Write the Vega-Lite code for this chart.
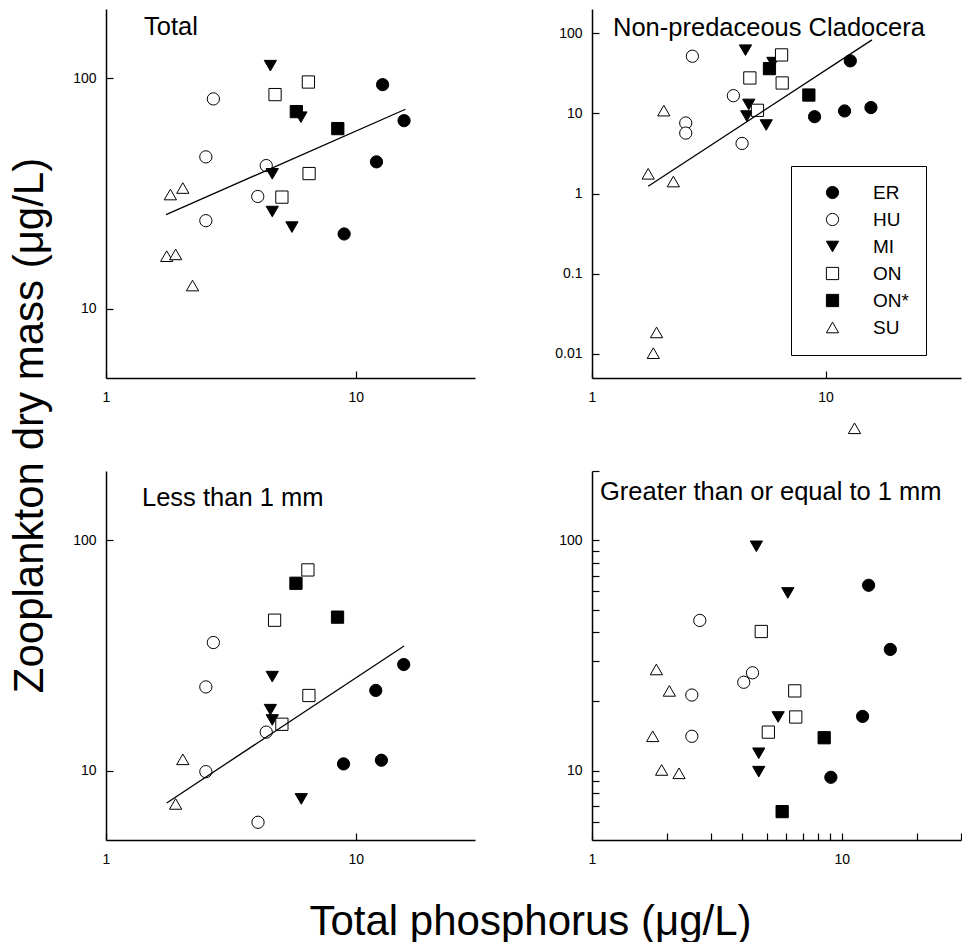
{
  "$schema": "https://vega.github.io/schema/vega-lite/v6.json",
  "background": "white",
  "padding": {"left": 7, "top": 9, "right": 0, "bottom": 0},
  "bounds": "flush",
  "columns": 2,
  "spacing": {"row": 93, "column": 117},
  "datasets": {
    "p1": [
      {"site": "ER", "tp": 12.8, "mass": 93.9},
      {"site": "ER", "tp": 15.6, "mass": 65.5},
      {"site": "ER", "tp": 12.1, "mass": 43.4},
      {"site": "ER", "tp": 8.98, "mass": 21.1},
      {"site": "HU", "tp": 2.69, "mass": 81.4},
      {"site": "HU", "tp": 2.51, "mass": 45.6},
      {"site": "HU", "tp": 4.38, "mass": 41.8},
      {"site": "HU", "tp": 4.05, "mass": 30.7},
      {"site": "HU", "tp": 2.51, "mass": 24.1},
      {"site": "MI", "tp": 4.55, "mass": 113.5},
      {"site": "MI", "tp": 6.03, "mass": 67.8},
      {"site": "MI", "tp": 4.63, "mass": 38.5},
      {"site": "MI", "tp": 4.63, "mass": 26.4},
      {"site": "MI", "tp": 5.55, "mass": 22.6},
      {"site": "ON", "tp": 6.46, "mass": 96.4},
      {"site": "ON", "tp": 4.75, "mass": 85.0},
      {"site": "ON", "tp": 6.5, "mass": 38.6},
      {"site": "ON", "tp": 5.06, "mass": 30.5},
      {"site": "ON*", "tp": 5.78, "mass": 71.7},
      {"site": "ON*", "tp": 8.47, "mass": 60.5},
      {"site": "SU", "tp": 1.81, "mass": 31.3},
      {"site": "SU", "tp": 2.03, "mass": 33.4},
      {"site": "SU", "tp": 1.75, "mass": 16.9},
      {"site": "SU", "tp": 1.9, "mass": 17.2},
      {"site": "SU", "tp": 2.22, "mass": 12.6}
    ],
    "p2": [
      {"site": "ER", "tp": 12.76, "mass": 45.1},
      {"site": "ER", "tp": 8.97, "mass": 9.08},
      {"site": "ER", "tp": 12.06, "mass": 10.7},
      {"site": "ER", "tp": 15.64, "mass": 11.8},
      {"site": "HU", "tp": 2.69, "mass": 51.5},
      {"site": "HU", "tp": 4.03, "mass": 16.6},
      {"site": "HU", "tp": 2.52, "mass": 7.57},
      {"site": "HU", "tp": 2.52, "mass": 5.67},
      {"site": "HU", "tp": 4.39, "mass": 4.21},
      {"site": "MI", "tp": 4.54, "mass": 61.3},
      {"site": "MI", "tp": 5.95, "mass": 42.9},
      {"site": "MI", "tp": 4.69, "mass": 12.9},
      {"site": "MI", "tp": 4.6, "mass": 9.25},
      {"site": "MI", "tp": 5.57, "mass": 7.14},
      {"site": "ON", "tp": 6.48, "mass": 53.5},
      {"site": "ON", "tp": 4.74, "mass": 27.6},
      {"site": "ON", "tp": 6.52, "mass": 23.9},
      {"site": "ON", "tp": 5.11, "mass": 10.9},
      {"site": "ON*", "tp": 5.75, "mass": 36.1},
      {"site": "ON*", "tp": 8.48, "mass": 16.9},
      {"site": "SU", "tp": 2.03, "mass": 10.8},
      {"site": "SU", "tp": 1.74, "mass": 1.76},
      {"site": "SU", "tp": 2.23, "mass": 1.41},
      {"site": "SU", "tp": 1.89, "mass": 0.0185},
      {"site": "SU", "tp": 1.83, "mass": 0.0102},
      {"site": "SU", "tp": 13.3, "mass": 0.00118}
    ],
    "p3": [
      {"site": "ER", "tp": 15.55, "mass": 28.9},
      {"site": "ER", "tp": 12.02, "mass": 22.3},
      {"site": "ER", "tp": 8.93, "mass": 10.7},
      {"site": "ER", "tp": 12.66, "mass": 11.1},
      {"site": "HU", "tp": 2.69, "mass": 36.0},
      {"site": "HU", "tp": 2.51, "mass": 23.1},
      {"site": "HU", "tp": 2.51, "mass": 9.9},
      {"site": "HU", "tp": 4.38, "mass": 14.7},
      {"site": "HU", "tp": 4.06, "mass": 5.97},
      {"site": "MI", "tp": 4.63, "mass": 25.6},
      {"site": "MI", "tp": 4.55, "mass": 18.4},
      {"site": "MI", "tp": 4.63, "mass": 16.6},
      {"site": "MI", "tp": 6.05, "mass": 7.54},
      {"site": "ON", "tp": 6.43, "mass": 74.4},
      {"site": "ON", "tp": 4.73, "mass": 45.0},
      {"site": "ON", "tp": 6.49, "mass": 21.2},
      {"site": "ON", "tp": 5.06, "mass": 15.9},
      {"site": "ON*", "tp": 5.76, "mass": 65.1},
      {"site": "ON*", "tp": 8.45, "mass": 46.4},
      {"site": "SU", "tp": 2.03, "mass": 11.2},
      {"site": "SU", "tp": 1.9, "mass": 7.17}
    ],
    "p4": [
      {"site": "ER", "tp": 12.8, "mass": 63.8},
      {"site": "ER", "tp": 15.64, "mass": 33.6},
      {"site": "ER", "tp": 12.11, "mass": 17.2},
      {"site": "ER", "tp": 9.04, "mass": 9.36},
      {"site": "HU", "tp": 2.7, "mass": 44.9},
      {"site": "HU", "tp": 4.39, "mass": 26.6},
      {"site": "HU", "tp": 4.05, "mass": 24.2},
      {"site": "HU", "tp": 2.51, "mass": 21.3},
      {"site": "HU", "tp": 2.51, "mass": 14.1},
      {"site": "MI", "tp": 4.55, "mass": 94.2},
      {"site": "MI", "tp": 6.08, "mass": 59.1},
      {"site": "MI", "tp": 5.56, "mass": 17.1},
      {"site": "MI", "tp": 4.65, "mass": 11.9},
      {"site": "MI", "tp": 4.65, "mass": 9.9},
      {"site": "ON", "tp": 4.76, "mass": 40.2},
      {"site": "ON", "tp": 6.48, "mass": 22.2},
      {"site": "ON", "tp": 6.54, "mass": 17.1},
      {"site": "ON", "tp": 5.08, "mass": 14.7},
      {"site": "ON*", "tp": 8.5, "mass": 13.9},
      {"site": "ON*", "tp": 5.77, "mass": 6.64},
      {"site": "SU", "tp": 1.81, "mass": 27.5},
      {"site": "SU", "tp": 2.04, "mass": 22.2},
      {"site": "SU", "tp": 1.75, "mass": 14.1},
      {"site": "SU", "tp": 1.9, "mass": 10.07},
      {"site": "SU", "tp": 2.23, "mass": 9.74}
    ],
    "l1": [{"tp": 1.74, "mass": 25.6}, {"tp": 15.8, "mass": 73.4}],
    "l2": [{"tp": 1.74, "mass": 1.23}, {"tp": 15.8, "mass": 82.5}],
    "l3": [{"tp": 1.75, "mass": 7.24}, {"tp": 15.6, "mass": 34.8}]
  },
  "concat": [
    {
      "width": 369,
      "height": 369,
      "title": {"text": "Total", "anchor": "start", "frame": "group", "dx": 38, "offset": -51, "baseline": "alphabetic"},
      "layer": [
        {
          "data": {"name": "p1"},
          "mark": {"type": "point", "filled": true, "strokeWidth": 1, "size": 150, "opacity": 1},
          "encoding": {
            "x": {"field": "tp", "type": "quantitative", "scale": {"type": "log", "domain": [1, 30], "nice": false}, "axis": {"values": [1, 10], "format": "~g", "title": null}},
            "y": {"field": "mass", "type": "quantitative", "scale": {"type": "log", "domain": [5, 200], "nice": false},
              "axis": {"values": [10, 100], "format": "~g", "title": "Zooplankton dry mass (μg/L)", "titleAngle": 270, "titleX": -64, "titleY": 416, "titleAlign": "center", "titleBaseline": "alphabetic"}},
            "shape": {"field": "site", "type": "nominal", "scale": {"domain": ["ER", "HU", "MI", "ON", "ON*", "SU"], "range": ["circle", "circle", "triangle-down", "square", "square", "triangle-up"]}, "legend": null},
            "fill": {"field": "site", "type": "nominal", "scale": {"domain": ["ER", "HU", "MI", "ON", "ON*", "SU"], "range": ["black", "white", "black", "white", "black", "white"]}, "legend": null},
            "stroke": {"field": "site", "type": "nominal", "scale": {"domain": ["ER", "HU", "MI", "ON", "ON*", "SU"], "range": ["black", "black", "black", "black", "black", "black"]}, "legend": null}
          }
        },
        {
          "data": {"name": "l1"},
          "mark": {"type": "line", "color": "black", "strokeWidth": 1.3},
          "encoding": {"x": {"field": "tp", "type": "quantitative"}, "y": {"field": "mass", "type": "quantitative"}}
        }
      ]
    },
    {
      "width": 369,
      "height": 369,
      "title": {"text": "Non-predaceous Cladocera", "anchor": "start", "frame": "group", "dx": 21, "offset": -52, "baseline": "alphabetic"},
      "layer": [
        {
          "data": {"name": "p2"},
          "mark": {"type": "point", "filled": true, "strokeWidth": 1, "size": 150, "opacity": 1},
          "encoding": {
            "x": {"field": "tp", "type": "quantitative", "scale": {"type": "log", "domain": [1, 38], "nice": false}, "axis": {"values": [1, 10], "format": "~g", "title": null}},
            "y": {"field": "mass", "type": "quantitative", "scale": {"type": "log", "domain": [0.005, 200], "nice": false}, "axis": {"values": [0.01, 0.1, 1, 10, 100], "format": "~g", "title": null}},
            "shape": {"field": "site", "type": "nominal", "scale": {"domain": ["ER", "HU", "MI", "ON", "ON*", "SU"], "range": ["circle", "circle", "triangle-down", "square", "square", "triangle-up"]},
              "legend": {"title": null, "orient": "none", "legendX": 199, "legendY": 157}},
            "fill": {"field": "site", "type": "nominal", "scale": {"domain": ["ER", "HU", "MI", "ON", "ON*", "SU"], "range": ["black", "white", "black", "white", "black", "white"]},
              "legend": {"title": null, "orient": "none", "legendX": 199, "legendY": 157}},
            "stroke": {"field": "site", "type": "nominal", "scale": {"domain": ["ER", "HU", "MI", "ON", "ON*", "SU"], "range": ["black", "black", "black", "black", "black", "black"]},
              "legend": {"title": null, "orient": "none", "legendX": 199, "legendY": 157}}
          }
        },
        {
          "data": {"name": "l2"},
          "mark": {"type": "line", "color": "black", "strokeWidth": 1.3},
          "encoding": {"x": {"field": "tp", "type": "quantitative"}, "y": {"field": "mass", "type": "quantitative"}}
        }
      ]
    },
    {
      "width": 369,
      "height": 369,
      "title": {"text": "Less than 1 mm", "anchor": "start", "frame": "group", "dx": 36, "offset": -60, "baseline": "alphabetic"},
      "layer": [
        {
          "data": {"name": "p3"},
          "mark": {"type": "point", "filled": true, "strokeWidth": 1, "size": 150, "opacity": 1},
          "encoding": {
            "x": {"field": "tp", "type": "quantitative", "scale": {"type": "log", "domain": [1, 30], "nice": false},
              "axis": {"values": [1, 10], "format": "~g", "title": "Total phosphorus (μg/L)", "titleX": 424, "titleY": 94, "titleAlign": "center", "titleBaseline": "alphabetic"}},
            "y": {"field": "mass", "type": "quantitative", "scale": {"type": "log", "domain": [5, 200], "nice": false}, "axis": {"values": [10, 100], "format": "~g", "title": null}},
            "shape": {"field": "site", "type": "nominal", "scale": {"domain": ["ER", "HU", "MI", "ON", "ON*", "SU"], "range": ["circle", "circle", "triangle-down", "square", "square", "triangle-up"]}, "legend": null},
            "fill": {"field": "site", "type": "nominal", "scale": {"domain": ["ER", "HU", "MI", "ON", "ON*", "SU"], "range": ["black", "white", "black", "white", "black", "white"]}, "legend": null},
            "stroke": {"field": "site", "type": "nominal", "scale": {"domain": ["ER", "HU", "MI", "ON", "ON*", "SU"], "range": ["black", "black", "black", "black", "black", "black"]}, "legend": null}
          }
        },
        {
          "data": {"name": "l3"},
          "mark": {"type": "line", "color": "black", "strokeWidth": 1.3},
          "encoding": {"x": {"field": "tp", "type": "quantitative"}, "y": {"field": "mass", "type": "quantitative"}}
        }
      ]
    },
    {
      "width": 369,
      "height": 369,
      "title": {"text": "Greater than or equal to 1 mm", "anchor": "start", "frame": "group", "dx": 8, "offset": -61, "baseline": "alphabetic"},
      "data": {"name": "p4"},
      "mark": {"type": "point", "filled": true, "strokeWidth": 1, "size": 150, "opacity": 1},
      "encoding": {
        "x": {"field": "tp", "type": "quantitative", "scale": {"type": "log", "domain": [1, 30], "nice": false},
          "axis": {"values": [1, 2, 3, 4, 5, 6, 7, 8, 9, 10, 20, 30], "format": "~g", "labelExpr": "datum.value == 1 || datum.value == 10 ? datum.label : ''", "title": null}},
        "y": {"field": "mass", "type": "quantitative", "scale": {"type": "log", "domain": [5, 200], "nice": false},
          "axis": {"values": [6, 7, 8, 9, 10, 20, 30, 40, 50, 60, 70, 80, 90, 100, 200], "format": "~g", "labelExpr": "datum.value == 10 || datum.value == 100 ? datum.label : ''", "title": null}},
        "shape": {"field": "site", "type": "nominal", "scale": {"domain": ["ER", "HU", "MI", "ON", "ON*", "SU"], "range": ["circle", "circle", "triangle-down", "square", "square", "triangle-up"]}, "legend": null},
        "fill": {"field": "site", "type": "nominal", "scale": {"domain": ["ER", "HU", "MI", "ON", "ON*", "SU"], "range": ["black", "white", "black", "white", "black", "white"]}, "legend": null},
        "stroke": {"field": "site", "type": "nominal", "scale": {"domain": ["ER", "HU", "MI", "ON", "ON*", "SU"], "range": ["black", "black", "black", "black", "black", "black"]}, "legend": null}
      }
    }
  ],
  "resolve": {
    "scale": {"shape": "independent", "fill": "independent", "stroke": "independent", "x": "independent", "y": "independent"},
    "legend": {"shape": "independent", "fill": "independent", "stroke": "independent"}
  },
  "config": {
    "font": "Liberation Sans",
    "view": {"stroke": null},
    "title": {"font": "Liberation Sans", "fontSize": 25.5, "fontWeight": "normal", "color": "black"},
    "axis": {
      "domainColor": "black",
      "domainWidth": 1.5,
      "tickColor": "black",
      "tickWidth": 1.2,
      "tickSize": -7,
      "grid": false,
      "labelFont": "Liberation Sans",
      "labelFontSize": 14,
      "labelColor": "black",
      "labelFlush": false,
      "labelOverlap": false,
      "titleFont": "Liberation Sans",
      "titleFontSize": 42,
      "titleFontWeight": "normal",
      "titleColor": "black"
    },
    "axisX": {"labelPadding": 19},
    "axisY": {"labelPadding": 17},
    "legend": {
      "strokeColor": "black",
      "strokeWidth": 1,
      "fillColor": "white",
      "padding": 17,
      "symbolOffset": 15,
      "labelOffset": 31,
      "labelFont": "Liberation Sans",
      "labelFontSize": 19,
      "labelColor": "black",
      "rowPadding": 7,
      "symbolSize": 150,
      "symbolStrokeWidth": 1
    }
  }
}
